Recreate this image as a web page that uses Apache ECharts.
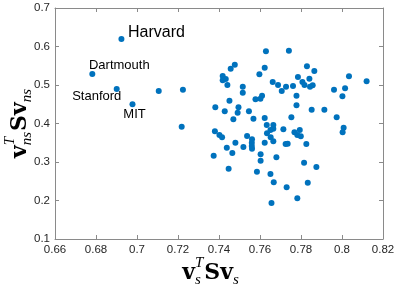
<!DOCTYPE html>
<html><head><meta charset="utf-8">
<script src="https://cdn.jsdelivr.net/npm/echarts@6/dist/echarts.min.js"></script>
<style>html,body{margin:0;padding:0;background:#fff}#c{width:399px;height:289px}</style>
</head><body><div id="c"></div>
<script>
const xTicks = ['0.66','0.68','0.7','0.72','0.74','0.76','0.78','0.8','0.82'];
const yTicks = ['0.1','0.2','0.3','0.4','0.5','0.6','0.7'];
const schoolNames = ['Harvard','Dartmouth','Stanford','MIT'];
const schoolX = [0.6924,0.6782,0.6901,0.6978];
const schoolY = [0.6195,0.5286,0.4896,0.4499];
const otherX = [
0.7106,0.7224,0.7218,0.7629,0.7741,0.7477,0.7457,0.7623,0.7597,0.7418,
0.7433,0.7418,0.7441,0.7829,0.7865,0.7785,0.7841,0.7807,0.7817,0.7857,
0.7844,0.7662,0.7688,0.7727,0.7761,0.7706,0.8034,0.8120,0.8015,0.7961,
0.8002,0.7516,0.7516,0.7778,0.7610,0.7602,0.7578,0.7451,0.7778,0.7382,
0.7495,0.7428,0.7491,0.7546,0.7852,0.7914,0.7470,0.7568,0.7623,0.7753,
0.7974,0.8008,0.8003,0.7380,0.7402,0.7415,0.7633,0.7665,0.7665,0.7651,
0.7714,0.7634,0.7652,0.7665,0.7768,0.7794,0.7782,0.7799,0.7537,0.7561,
0.7480,0.7438,0.7519,0.7560,0.7560,0.7561,0.7623,0.7725,0.7735,0.7826,
0.7374,0.7465,0.7603,0.7603,0.7680,0.7815,0.7875,0.7447,0.7585,0.7651,
0.7667,0.7833,0.7730,0.7782,0.7656];
const otherY = [
0.4844,0.4878,0.3917,0.5875,0.5891,0.5527,0.5423,0.5449,0.5278,0.5234,
0.5156,0.5122,0.5000,0.5486,0.5364,0.5208,0.5164,0.5078,0.5000,0.4992,
0.4956,0.5078,0.5000,0.4956,0.4974,0.4844,0.5226,0.5096,0.4914,0.4878,
0.4706,0.4956,0.4800,0.4722,0.4722,0.4644,0.4629,0.4592,0.4473,0.4421,
0.4421,0.4317,0.4281,0.4317,0.4358,0.4358,0.4109,0.4125,0.4143,0.4161,
0.4161,0.3891,0.3771,0.3797,0.3701,0.3642,0.3961,0.3961,0.3865,0.3831,
0.3849,0.3745,0.3642,0.3538,0.3771,0.3831,0.3701,0.3668,0.3675,0.3590,
0.3501,0.3371,0.3390,0.3501,0.3416,0.3345,0.3501,0.3468,0.3475,0.3468,
0.3164,0.3234,0.3200,0.3034,0.3122,0.2982,0.2870,0.2826,0.2748,0.2688,
0.2473,0.2462,0.2343,0.2057,0.1935];

const DOT = '#0072BD';
const labelStyle = {
  Harvard:   {fontSize:16, offset:[35,-6.5]},
  Dartmouth: {fontSize:13, offset:[27,-9]},
  Stanford:  {fontSize:13, offset:[-20,7.5]},
  MIT:       {fontSize:13, offset:[2,10]}
};

const schoolData = schoolNames.map((n,i)=>({
  name:n, value:[schoolX[i],schoolY[i]],
  label:{show:true, formatter:n, position:'inside', offset:labelStyle[n].offset,
    fontSize:labelStyle[n].fontSize, color:'#000', fontFamily:'Liberation Sans, Arial, sans-serif'}
}));
const otherData = otherX.map((x,i)=>[x,otherY[i]]);

function nearest(arr, v){ let best=arr[0]; let d=1e9; arr.forEach(s=>{const e=Math.abs(parseFloat(s)-v); if(e<d){d=e;best=s;}}); return best; }

// math-style axis titles
const cv = document.createElement('canvas').getContext('2d');
const mainFont = 'bold 22px "DejaVu Serif"';
const scriptFont = 'italic 15px "Liberation Serif"';
function w(t,f){ cv.font=f; return cv.measureText(t).width; }
function mathLabel(parts, cx, cy, rotation){
  let total=0;
  parts.forEach(p=>{ p.w = p.main ? w(p.main,mainFont) : Math.max(p.sup?w(p.sup,scriptFont):0, p.sub?w(p.sub,scriptFont):0) + 1; total+=p.w; });
  let x=-total/2; const ch=[];
  parts.forEach(p=>{
    if(p.main){ ch.push({type:'text', x:x, y:0, style:{text:p.main, font:mainFont, fill:'#000', align:'left', verticalAlign:'middle'}}); }
    else {
      if(p.sup) ch.push({type:'text', x:x, y:-10, style:{text:p.sup, font:scriptFont, fill:'#000', align:'left', verticalAlign:'middle'}});
      if(p.sub) ch.push({type:'text', x:x, y:7, style:{text:p.sub, font:scriptFont, fill:'#000', align:'left', verticalAlign:'middle'}});
    }
    x+=p.w;
  });
  return {type:'group', x:cx, y:cy, rotation:rotation, children:ch, silent:true};
}
const xTitle = mathLabel([{main:'v'},{sup:'T',sub:'s'},{main:'Sv'},{sub:'s'}], 211, 273, 0);
const yTitle = mathLabel([{main:'v'},{sup:'T',sub:'ns'},{main:'Sv'},{sub:'ns'}], 20, 123, Math.PI/2);

const axisColor = '#8a8a8a';
const lblFont = {fontSize:11.5, color:'#262626', fontFamily:'Liberation Sans, Arial, sans-serif'};
const chart = echarts.init(document.getElementById('c'));
chart.setOption({
  animation:false,
  grid:{left:55, right:16, top:8, bottom:50, containLabel:false},
  xAxis:[
    {type:'value', position:'bottom', min:0.66, max:0.82, interval:0.02,
     axisLine:{show:true, lineStyle:{color:axisColor, width:1}},
     axisTick:{show:true, inside:true, length:4, lineStyle:{color:axisColor}},
     axisLabel:Object.assign({margin:5, formatter:v=>nearest(xTicks,v)}, lblFont),
     splitLine:{show:false}},
    {type:'value', position:'top', min:0.66, max:0.82, interval:0.02,
     axisLine:{show:true, lineStyle:{color:axisColor, width:1}},
     axisTick:{show:true, inside:true, length:4, lineStyle:{color:axisColor}},
     axisLabel:{show:false}, splitLine:{show:false}}
  ],
  yAxis:[
    {type:'value', position:'left', min:0.1, max:0.7, interval:0.1,
     axisLine:{show:true, lineStyle:{color:axisColor, width:1}},
     axisTick:{show:true, inside:true, length:4, lineStyle:{color:axisColor}},
     axisLabel:Object.assign({margin:5, formatter:v=>nearest(yTicks,v)}, lblFont),
     splitLine:{show:false}},
    {type:'value', position:'right', min:0.1, max:0.7, interval:0.1,
     axisLine:{show:true, lineStyle:{color:axisColor, width:1}},
     axisTick:{show:true, inside:true, length:4, lineStyle:{color:axisColor}},
     axisLabel:{show:false}, splitLine:{show:false}}
  ],
  series:[
    {type:'scatter', xAxisIndex:0, yAxisIndex:0, symbolSize:6, itemStyle:{color:DOT, opacity:1}, data:otherData},
    {type:'scatter', xAxisIndex:0, yAxisIndex:0, symbolSize:6, itemStyle:{color:DOT, opacity:1}, data:schoolData}
  ],
  graphic:[xTitle, yTitle]
});
</script></body></html>
